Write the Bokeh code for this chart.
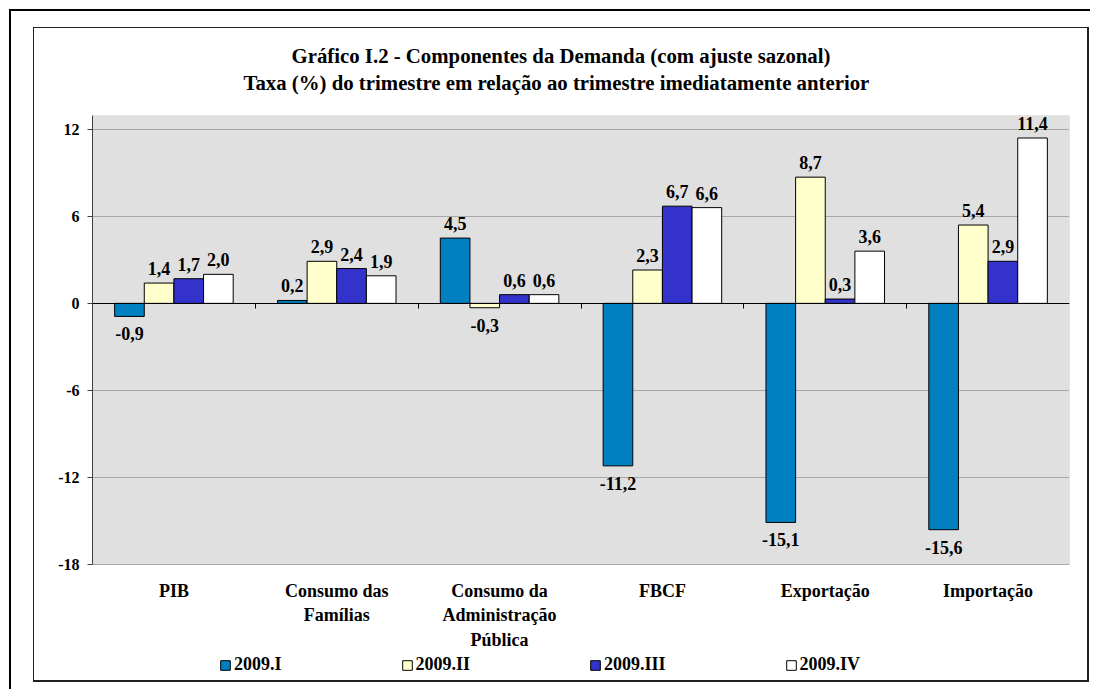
from bokeh.plotting import figure
from bokeh.models import (Range1d, FixedTicker, LinearAxis, Legend, LegendItem,
                          Title, ColumnDataSource, BoxAnnotation)
from bokeh.core.properties import value
from bokeh.embed import file_html
from bokeh.resources import INLINE

# ---------------- data ----------------
categories = ["PIB", "Consumo das\nFamílias", "Consumo da\nAdministração\nPública",
              "FBCF", "Exportação", "Importação"]
series_names = ["2009.I", "2009.II", "2009.III", "2009.IV"]
q1 = [-0.9, 0.2, 4.5, -11.2, -15.1, -15.6]
q2 = [1.4, 2.9, -0.3, 2.3, 8.7, 5.4]
q3 = [1.7, 2.4, 0.6, 6.7, 0.3, 2.9]
q4 = [2.0, 1.9, 0.6, 6.6, 3.6, 11.4]
y_ticks = [-18, -12, -6, 0, 6, 12]
y_tick_labels = ["-18", "-12", "-6", "0", "6", "12"]
title_line1 = "Gráfico I.2 - Componentes da Demanda (com ajuste sazonal)"
title_line2 = "Taxa (%) do trimestre em relação ao trimestre imediatamente anterior"

# ---------------- style / layout ----------------
FONT = "Liberation Serif"
colors = ["#0080C0", "#FFFFCC", "#3333CC", "#FFFFFF"]
bar_w = 0.182
W, H = 1090, 689
frame_top, frame_bottom = 115, 681        # frame spans plot area + label/legend zone
plot_area_bottom_px = 564                 # where the lowest tick sits
y_top = 12.95
y_low = y_ticks[0]
px_per_unit = (plot_area_bottom_px - frame_top) / (y_top - y_low)
y_start = y_low - (frame_bottom - plot_area_bottom_px) / px_per_unit

n_cat = len(categories)
p = figure(width=W, height=H, output_backend="svg", toolbar_location=None,
           x_range=Range1d(0, n_cat), y_range=Range1d(y_start, y_top),
           x_axis_type=None,
           min_border_left=92, min_border_right=21, min_border_top=frame_top,
           min_border_bottom=H - frame_bottom)
p.title.visible = False
p.background_fill_color = None
p.border_fill_color = None
p.outline_line_color = None
# page frames (outer corner lines + inner chart box) drawn as CSS inset shadows
p.styles = {"background-color": "white",
            "box-shadow": ("inset 5px 5px 0 4px white, inset 6px 6px 0 5px black, "
                           "inset 16px 10px 0 17px white, "
                           "inset 15.5px 9.5px 0 18.5px #202020")}

# grey plot area (from the lowest tick up to the top of the frame)
p.add_layout(BoxAnnotation(bottom=y_low, fill_color="#E0E0E0", fill_alpha=1,
                           line_color="#808080", line_width=1, level="image"))

# y axis
yax = p.yaxis[0]
yax.ticker = FixedTicker(ticks=y_ticks)
yax.bounds = (y_low, y_top)
yax.major_label_overrides = {t: l for t, l in zip(y_ticks, y_tick_labels)}
yax.axis_line_color = "#404040"
yax.major_tick_out = 5
yax.major_tick_in = 0
yax.major_tick_line_color = "#404040"
yax.minor_tick_line_color = None
yax.major_label_standoff = 8
yax.major_label_text_font = FONT
yax.major_label_text_font_style = "bold"
yax.major_label_text_font_size = "16px"
yax.major_label_text_color = "black"

p.ygrid.ticker = FixedTicker(ticks=y_ticks)
p.ygrid.grid_line_color = "#A8A8A8"
p.ygrid.grid_line_width = 1

# zero line axis with category boundary ticks
bounds = list(range(1, n_cat))
zero_axis = LinearAxis(ticker=FixedTicker(ticks=bounds),
                       major_label_overrides={b: "" for b in bounds},
                       fixed_location=0, axis_line_color="black",
                       major_tick_out=5, major_tick_in=0,
                       major_tick_line_color="black",
                       minor_tick_line_color=None,
                       major_label_standoff=0)
p.add_layout(zero_axis, "below")

# category label axis, sitting at the bottom of the grey area
centers = [i + 0.5 for i in range(n_cat)]
label_axis = LinearAxis(ticker=FixedTicker(ticks=centers), fixed_location=y_low,
                        major_label_overrides={c: name for c, name in zip(centers, categories)},
                        axis_line_color=None, major_tick_line_color=None,
                        minor_tick_line_color=None, major_label_standoff=10,
                        major_label_text_font=FONT,
                        major_label_text_font_style="bold",
                        major_label_text_font_size="18px",
                        major_label_text_line_height=1.24,
                        major_label_text_color="black")
p.add_layout(label_axis, "below")

# bars
renderers = []
for s, (vals, col) in enumerate(zip([q1, q2, q3, q4], colors)):
    xs = [i + 0.5 + (s - 1.5) * bar_w for i in range(n_cat)]
    src = ColumnDataSource(dict(x=xs, top=vals))
    r = p.vbar(x="x", top="top", bottom=0, width=bar_w, source=src,
               fill_color=col, line_color="black", line_width=1)
    renderers.append(r)
    pos = [(x, v) for x, v in zip(xs, vals) if v >= 0]
    neg = [(x, v) for x, v in zip(xs, vals) if v < 0]
    if pos:
        p.text(x=[a for a, _ in pos], y=[b for _, b in pos],
               text=[f"{b:.1f}".replace(".", ",") for _, b in pos],
               text_align="center", text_baseline="bottom", y_offset=-8,
               text_font=value(FONT), text_font_style="bold",
               text_font_size="18px", text_color="black")
    if neg:
        p.text(x=[a for a, _ in neg], y=[b for _, b in neg],
               text=[f"{b:.1f}".replace(".", ",") for _, b in neg],
               text_align="center", text_baseline="top", y_offset=11,
               text_font=value(FONT), text_font_style="bold",
               text_font_size="18px", text_color="black")

# legend (inside the lower part of the frame)
legend = Legend(items=[LegendItem(label=nm, renderers=[r]) for nm, r in zip(series_names, renderers)],
                orientation="horizontal", location=(127, 6), spacing=119,
                padding=0, margin=0, border_line_color=None,
                background_fill_alpha=0, glyph_width=12, glyph_height=12,
                label_standoff=3, label_text_font=FONT, label_text_color="black",
                label_text_font_style="bold", label_text_font_size="18px")
p.add_layout(legend, "center")

# spacer between frame and title
spacer = LinearAxis(ticker=FixedTicker(ticks=[0.5]), major_label_overrides={0.5: ""},
                    axis_line_color=None, major_tick_line_color=None,
                    minor_tick_line_color=None, major_tick_out=21,
                    major_tick_in=0, major_label_standoff=0)
p.add_layout(spacer, "above")

# titles (two lines)
t2 = Title(text=title_line2, align="left", offset=151, standoff=2,
           text_font=FONT, text_font_style="bold", text_font_size="20.8px",
           text_color="black")
t1 = Title(text=title_line1, align="left", offset=199, standoff=1,
           text_font=FONT, text_font_style="bold", text_font_size="20.8px",
           text_color="black")
p.add_layout(t2, "above")
p.add_layout(t1, "above")

open("out.html", "w").write(file_html(p, INLINE))
